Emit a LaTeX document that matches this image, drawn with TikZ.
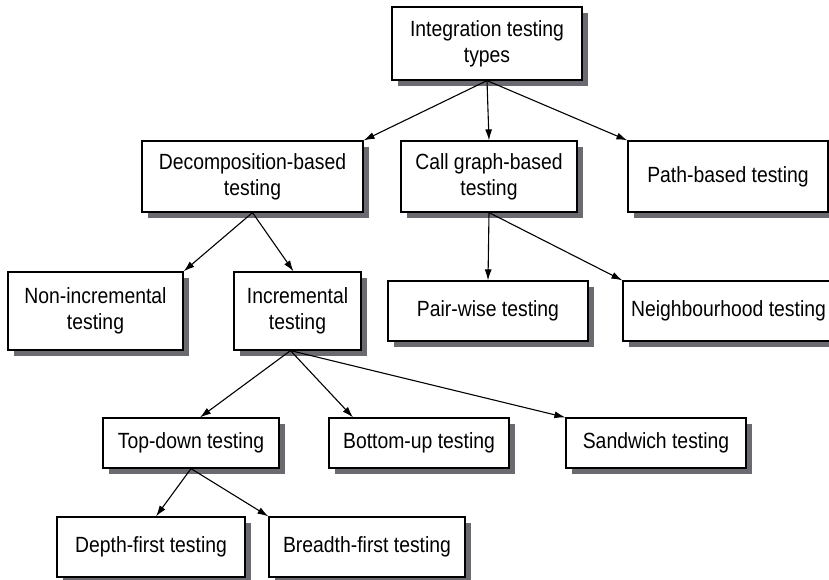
\documentclass[tikz,border=0pt]{standalone}
\usepackage{fontspec}
\setmainfont{Liberation Sans}[FakeStretch=0.88]
\usetikzlibrary{shadows,arrows.meta}
\definecolor{shadowgray}{HTML}{6A6A70}
\begin{document}
\begin{tikzpicture}[x=1pt,y=-1pt,
  box/.style={draw=black, line width=1.2pt, fill=white, inner sep=0pt, align=center,
    font=\fontsize{22}{26}\selectfont,
    drop shadow={shadow xshift=6pt, shadow yshift=-6pt, fill=shadowgray, opacity=1}},
  arr/.style={line width=1.1pt, -{Latex[length=11pt,width=7pt]}}]
\clip (0,0) rectangle (829,579);
\fill[white] (0,0) rectangle (829,579);
\node[box, minimum width=190pt, minimum height=73pt] (root) at (487,43.5) {Integration testing\\types};
\node[box, minimum width=221pt, minimum height=71pt] (decomp) at (252.5,176.5) {Decomposition-based\\testing};
\node[box, minimum width=176pt, minimum height=71pt] (callg) at (489,176.5) {Call graph-based\\testing};
\node[box, minimum width=200pt, minimum height=71pt] (path) at (728,176.5) {Path-based testing};
\node[box, minimum width=175pt, minimum height=78pt] (nonin) at (95.5,311) {Non-incremental\\testing};
\node[box, minimum width=127pt, minimum height=78pt] (incr) at (297.5,311) {Incremental\\testing};
\node[box, minimum width=200pt, minimum height=60pt] (pair) at (488,311) {Pair-wise testing};
\node[box, minimum width=211pt, minimum height=60pt] (neigh) at (728.5,311) {Neighbourhood testing};
\node[box, minimum width=176pt, minimum height=50pt] (topdown) at (191,443) {Top-down testing};
\node[box, minimum width=180pt, minimum height=50pt] (bottomup) at (419,443) {Bottom-up testing};
\node[box, minimum width=180pt, minimum height=50pt] (sandwich) at (656,443) {Sandwich testing};
\node[box, minimum width=188pt, minimum height=60pt] (depth) at (151,547) {Depth-first testing};
\node[box, minimum width=196pt, minimum height=60pt] (breadth) at (367,547) {Breadth-first testing};

\draw[arr] (root.south) -- (decomp.north east);
\draw[arr] (root.south) -- (callg.north);
\draw[arr] (root.south) -- (path.north west);
\draw[arr] (decomp.south) -- (nonin.north east);
\draw[arr] (decomp.south) -- ([xshift=-4pt]incr.north);
\draw[arr] (callg.south) -- (pair.north);
\draw[arr] (callg.south) -- (neigh.north west);
\draw[arr] ([xshift=-7pt]incr.south) -- ([xshift=9pt]topdown.north);
\draw[arr] ([xshift=-7pt]incr.south) -- ([xshift=-66pt]bottomup.north);
\draw[arr] ([xshift=-7pt]incr.south) -- (sandwich.north west);
\draw[arr] (topdown.south) -- ([xshift=5pt]depth.north);
\draw[arr] (topdown.south) -- (breadth.north west);
\end{tikzpicture}
\end{document}
